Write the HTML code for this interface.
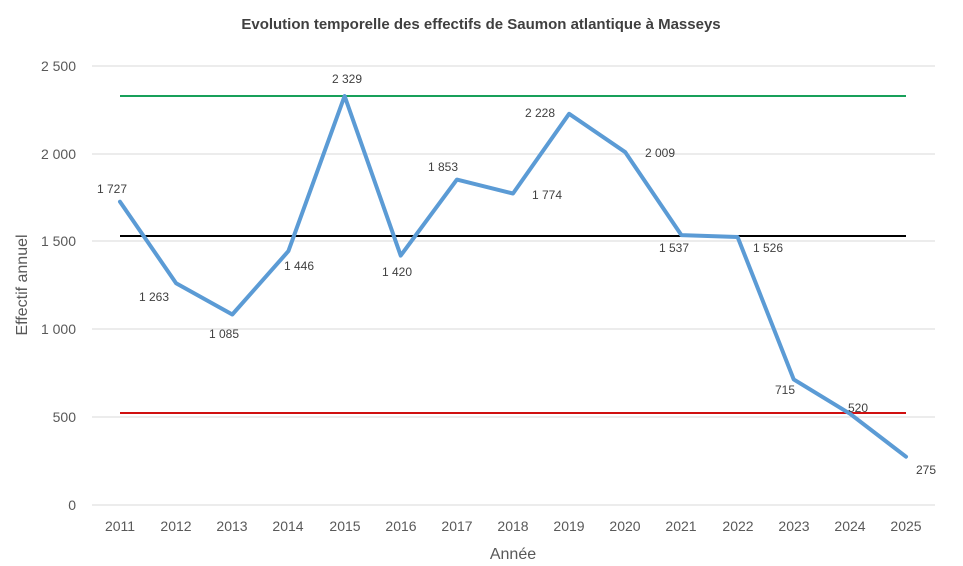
<!DOCTYPE html>
<html><head><meta charset="utf-8"><style>
html,body{margin:0;padding:0;background:#fff;}
svg{display:block;font-family:"Liberation Sans",sans-serif;}
</style></head><body>
<svg width="963" height="566" viewBox="0 0 963 566" xmlns="http://www.w3.org/2000/svg">
<rect width="963" height="566" fill="#fff"/>
<text x="481" y="29" text-anchor="middle" font-size="15" font-weight="bold" fill="#404040">Evolution temporelle des effectifs de Saumon atlantique à Masseys</text>
<g stroke="#d9d9d9" stroke-width="1">
<line x1="92" y1="66" x2="935" y2="66"/>
<line x1="92" y1="154" x2="935" y2="154"/>
<line x1="92" y1="241" x2="935" y2="241"/>
<line x1="92" y1="329" x2="935" y2="329"/>
<line x1="92" y1="417" x2="935" y2="417"/>
<line x1="92" y1="505" x2="935" y2="505"/>
</g>
<g font-size="14" fill="#595959" text-anchor="end">
<text x="76" y="71">2 500</text>
<text x="76" y="159">2 000</text>
<text x="76" y="246">1 500</text>
<text x="76" y="334">1 000</text>
<text x="76" y="422">500</text>
<text x="76" y="510">0</text>
</g>
<g font-size="14" fill="#595959" text-anchor="middle">
<text x="120" y="531">2011</text><text x="176" y="531">2012</text><text x="232" y="531">2013</text>
<text x="288" y="531">2014</text><text x="345" y="531">2015</text><text x="401" y="531">2016</text>
<text x="457" y="531">2017</text><text x="513" y="531">2018</text><text x="569" y="531">2019</text>
<text x="625" y="531">2020</text><text x="681" y="531">2021</text><text x="738" y="531">2022</text>
<text x="794" y="531">2023</text><text x="850" y="531">2024</text><text x="906" y="531">2025</text>
</g>
<text x="513" y="559" text-anchor="middle" font-size="16" fill="#595959">Année</text>
<text transform="translate(27,285) rotate(-90)" text-anchor="middle" font-size="16" fill="#595959">Effectif annuel</text>
<line x1="120" y1="96" x2="906" y2="96" stroke="#18a05a" stroke-width="2"/>
<line x1="120" y1="236" x2="906" y2="236" stroke="#000" stroke-width="2"/>
<line x1="120" y1="413" x2="906" y2="413" stroke="#d01010" stroke-width="2"/>
<polyline fill="none" stroke="#5b9bd5" stroke-width="4" stroke-linejoin="round" stroke-linecap="round"
points="120,201.7 176.1,283.2 232.3,314.5 288.4,251.1 344.6,96 400.7,255.6 456.9,179.6 513,193.5 569.1,113.8 625.3,152.2 681.4,235.1 737.6,237 793.7,379.4 849.9,413.7 906,456.7"/>
<g font-size="12" fill="#404040" text-anchor="middle">
<text x="112" y="193">1 727</text>
<text x="154" y="301">1 263</text>
<text x="224" y="338">1 085</text>
<text x="299" y="270">1 446</text>
<text x="347" y="83">2 329</text>
<text x="397" y="276">1 420</text>
<text x="443" y="171">1 853</text>
<text x="547" y="199">1 774</text>
<text x="540" y="117">2 228</text>
<text x="660" y="157">2 009</text>
<text x="674" y="252">1 537</text>
<text x="768" y="252">1 526</text>
<text x="785" y="394">715</text>
<text x="858" y="412">520</text>
<text x="926" y="474">275</text>
</g>
</svg>
</body></html>
